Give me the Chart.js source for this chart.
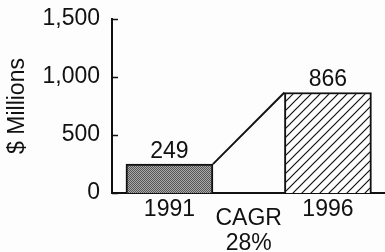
<!DOCTYPE html>
<html>
<head>
<meta charset="utf-8">
<script src="https://cdn.jsdelivr.net/npm/chart.js@4/dist/chart.umd.min.js"></script>
<style>
  html, body { margin: 0; padding: 0; background: #fdfdfd; }
  canvas { display: block; }
</style>
</head>
<body>
<canvas id="cagr" width="385" height="252"></canvas>
<script>
const categories = ['1991', '', '1996'];
const revenue = [249, null, 866];
const cagrLabel = ['CAGR', '28%'];
const yTickValues = [0, 500, 1000, 1500];
const yTickLabels = ['0', '500', '1,000', '1,500'];

const FONT = '"Liberation Sans", Arial, Helvetica, sans-serif';
const INK = '#111';
const SIZE = 23;

// dotted grey fill for 1991
function stipple() {
  const c = document.createElement('canvas');
  c.width = 2; c.height = 2;
  const g = c.getContext('2d');
  g.fillStyle = '#aaa'; g.fillRect(0, 0, 2, 2);
  g.fillStyle = '#555'; g.fillRect(0, 0, 1, 1); g.fillRect(1, 1, 1, 1);
  return g.createPattern(c, 'repeat');
}

// "/" hatching for 1996
function hatch() {
  const s = 9;
  const c = document.createElement('canvas');
  c.width = s; c.height = s;
  const g = c.getContext('2d');
  g.fillStyle = '#fdfdfd'; g.fillRect(0, 0, s, s);
  g.strokeStyle = INK; g.lineWidth = 1.2;
  g.beginPath();
  g.moveTo(0, s); g.lineTo(s, 0);
  g.moveTo(-1, 1); g.lineTo(1, -1);
  g.moveTo(s - 1, s + 1); g.lineTo(s + 1, s - 1);
  g.stroke();
  return g.createPattern(c, 'repeat');
}

const extras = {
  id: 'extras',
  afterDraw(chart) {
    const ctx = chart.ctx;
    const area = chart.chartArea;
    const y = chart.scales.y;
    const x = chart.scales.x;
    const bars = chart.getDatasetMeta(0).data;
    ctx.save();
    ctx.strokeStyle = INK;
    // inward tick marks on the value axis
    ctx.lineWidth = 1.5;
    y.ticks.forEach(t => {
      const py = Math.round(y.getPixelForValue(t.value)) + 0.5;
      ctx.beginPath();
      ctx.moveTo(area.left, py);
      ctx.lineTo(area.left + 6, py);
      ctx.stroke();
    });
    // growth line between the two bars
    const a = bars[0], b = bars[2];
    ctx.lineWidth = 2;
    ctx.beginPath();
    ctx.moveTo(a.x + a.width / 2, a.y);
    ctx.lineTo(b.x - b.width / 2, b.y);
    ctx.stroke();
    // value labels
    ctx.fillStyle = INK;
    ctx.font = SIZE + 'px ' + FONT;
    ctx.textAlign = 'center';
    ctx.textBaseline = 'bottom';
    [0, 2].forEach(i => {
      const bar = bars[i];
      ctx.fillText(String(revenue[i]), bar.x, bar.y - 1);
    });
    // CAGR note under the middle slot
    ctx.textBaseline = 'middle';
    const cx = x.getPixelForValue(1);
    ctx.fillText(cagrLabel[0], cx, x.top + 26);
    ctx.fillText(cagrLabel[1], cx, x.top + 51);
    ctx.restore();
  }
};

new Chart(document.getElementById('cagr'), {
  type: 'bar',
  data: {
    datasets: [{
      data: revenue.map((v, i) => ({ x: i, y: v })),
      backgroundColor: [stipple(), 'transparent', hatch()],
      borderColor: INK,
      borderWidth: 2,
      barThickness: 87
    }]
  },
  options: {
    responsive: false,
    animation: false,
    devicePixelRatio: 1,
    layout: { padding: { top: 19, right: 0, bottom: 0, left: 0 } },
    plugins: { legend: { display: false }, tooltip: { enabled: false } },
    scales: {
      x: {
        type: 'linear',
        offset: false,
        min: -0.725,
        max: 2.72,
        grid: { display: false, drawTicks: false },
        border: { display: true, color: INK, width: 2 },
        afterBuildTicks: s => { s.ticks = categories.map((c, i) => ({ value: i })); },
        ticks: {
          padding: 3,
          autoSkip: false,
          maxRotation: 0,
          color: INK,
          font: { family: FONT, size: SIZE },
          callback: v => categories[v] || ''
        },
        afterFit: s => { s.height = 59; s.paddingLeft = 0; s.paddingRight = 0; }
      },
      y: {
        min: 0,
        max: 1500,
        grid: { display: false, drawTicks: false },
        border: { display: true, color: INK, width: 2 },
        title: {
          display: true,
          text: '$ Millions',
          color: INK,
          font: { family: FONT, size: SIZE },
          padding: { top: 4, bottom: 0 }
        },
        ticks: {
          stepSize: 250,
          padding: 12,
          color: INK,
          font: { family: FONT, size: SIZE },
          callback: v => {
            const i = yTickValues.indexOf(v);
            return i >= 0 ? yTickLabels[i] : '';
          }
        },
        afterFit: s => { s.width = 112; s.paddingTop = 0; s.paddingBottom = 0; }
      }
    }
  },
  plugins: [extras]
});
</script>
</body>
</html>
